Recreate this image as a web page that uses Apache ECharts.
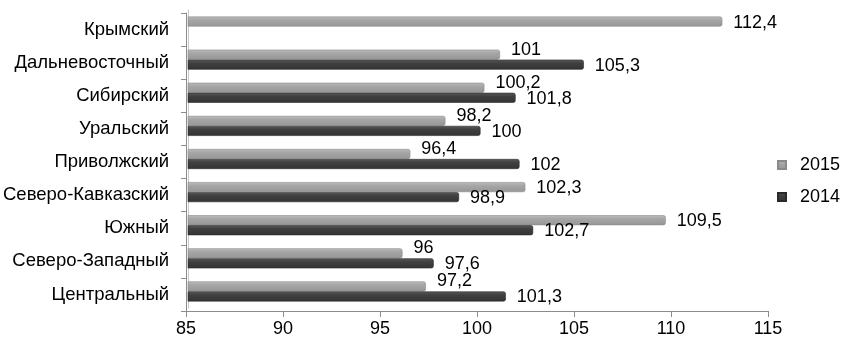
<!DOCTYPE html>
<html>
<head>
<meta charset="utf-8">
<script src="https://cdn.jsdelivr.net/npm/echarts@6/dist/echarts.min.js"></script>
<style>
  html, body { margin: 0; padding: 0; background: #fff; }
  #chart { width: 843px; height: 341px; }
</style>
</head>
<body>
<div id="chart"></div>
<script>
var regions = ['Центральный', 'Северо-Западный', 'Южный', 'Северо-Кавказский', 'Приволжский',
  'Уральский', 'Сибирский', 'Дальневосточный', 'Крымский']
var values2015 = [97.2, 96, 109.5, 102.3, 96.4, 98.2, 100.2, 101, 112.4]
var values2014 = [101.3, 97.6, 102.7, 98.9, 102, 100, 101.8, 105.3, null]
var xTicks = { min: 85, max: 115, step: 5 }

var font = "'Liberation Sans', Arial, sans-serif"

// 2015 labels go a bit up when the 2014 bar below is longer
var data2015 = values2015.map(function (v, i) {
  var up = values2014[i] != null && values2014[i] > v
  return { value: v, label: { offset: [0, up ? -5 : 1] } }
})

function fmt(p) { return String(p.value).replace('.', ',') }

var chart = echarts.init(document.getElementById('chart'))
var option = {
  animation: false,
  textStyle: { fontFamily: font },
  grid: [
    { left: 183, right: 75, top: 13, height: 298 },
    { left: 188, right: 70, top: 10, height: 298 }
  ],
  legend: {
    orient: 'vertical',
    left: 772,
    top: 151,
    icon: 'rect',
    itemWidth: 8,
    itemHeight: 8,
    itemGap: 14,
    textStyle: { fontSize: 18, color: '#000', fontFamily: font, padding: [0, 0, 0, 9] },
    data: ['2015', '2014']
  },
  xAxis: [
    {
      gridIndex: 0,
      type: 'value',
      min: xTicks.min,
      max: xTicks.max,
      interval: xTicks.step,
      axisLine: { show: true, lineStyle: { color: '#8c8c8c' } },
      axisTick: { show: true, length: 6, lineStyle: { color: '#8c8c8c' } },
      axisLabel: { color: '#000', fontSize: 18, fontFamily: font, margin: 9 },
      splitLine: { show: false }
    },
    {
      gridIndex: 1,
      type: 'value',
      min: xTicks.min,
      max: xTicks.max,
      show: false
    }
  ],
  yAxis: [
    {
      gridIndex: 0,
      type: 'category',
      data: regions,
      axisLine: { show: true, lineStyle: { color: '#8c8c8c' } },
      axisTick: { show: true, length: 5, lineStyle: { color: '#8c8c8c' } },
      axisLabel: { color: '#000', fontSize: 18.5, fontFamily: font, margin: 17 }
    },
    {
      gridIndex: 1,
      type: 'category',
      data: regions,
      axisLine: { show: true, lineStyle: { color: '#c8c8c8' } },
      axisTick: { show: false },
      axisLabel: { show: false }
    }
  ],
  series: [
    {
      name: '2015',
      type: 'bar',
      xAxisIndex: 1,
      yAxisIndex: 1,
      barWidth: 10,
      barGap: '0%',
      data: data2015,
      itemStyle: {
        color: new echarts.graphic.LinearGradient(0, 0, 0, 1, [
          { offset: 0, color: '#bdbdbd' },
          { offset: 0.35, color: '#a6a6a6' },
          { offset: 1, color: '#969696' }
        ]),
        borderColor: '#8a8a8a',
        borderWidth: 0.6,
        borderRadius: [0, 2, 2, 0]
      },
      label: {
        show: true,
        position: 'right',
        distance: 11,
        color: '#000',
        fontSize: 18,
        fontFamily: font,
        formatter: fmt
      }
    },
    {
      name: '2014',
      type: 'bar',
      xAxisIndex: 1,
      yAxisIndex: 1,
      barWidth: 10,
      barGap: '0%',
      data: values2014,
      itemStyle: {
        color: new echarts.graphic.LinearGradient(0, 0, 0, 1, [
          { offset: 0, color: '#5a5a5a' },
          { offset: 0.35, color: '#404040' },
          { offset: 1, color: '#333333' }
        ]),
        borderColor: '#2a2a2a',
        borderWidth: 0.6,
        borderRadius: [0, 2, 2, 0]
      },
      label: {
        show: true,
        position: 'right',
        distance: 11,
        offset: [0, 1],
        color: '#000',
        fontSize: 18,
        fontFamily: font,
        formatter: fmt
      }
    }
  ]
}
chart.setOption(option)
</script>
</body>
</html>
